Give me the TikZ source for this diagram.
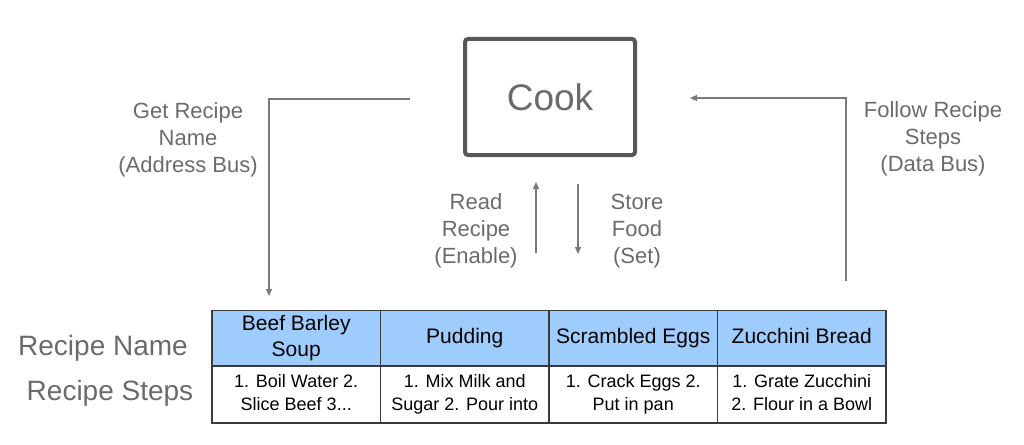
\documentclass[tikz,border=0pt]{standalone}
\usepackage{fontspec}
\setmainfont{Liberation Sans}
\usetikzlibrary{arrows.meta}
\definecolor{labelgray}{HTML}{6B6B6B}
\definecolor{linegray}{HTML}{7A7A7A}
\definecolor{boxgray}{HTML}{585858}
\definecolor{tablegray}{HTML}{3A3A3A}
\definecolor{headblue}{HTML}{9ECDFD}
\begin{document}
\begin{tikzpicture}
  [x=1pt,y=-1pt,
   every node/.style={font=\fontsize{22}{27}\selectfont,text=labelgray,align=center},
   cook/.style={draw=boxgray,line width=4pt,rounded corners=3pt,minimum width=170pt,minimum height=116pt,font=\fontsize{37}{44}\selectfont},
   head/.style={draw=tablegray,fill=headblue,line width=1.2pt,minimum width=168.5pt,minimum height=56pt,inner sep=0pt,text=black,font=\fontsize{21}{26}\selectfont,text depth=4.5pt},
   cell/.style={head,fill=white,minimum height=57pt,font=\fontsize{18}{23}\selectfont,text depth=4pt},
   bus/.style={draw=linegray,line width=1.2pt,-{Triangle[length=7pt,width=6pt]}}]
  \useasboundingbox (0,0) rectangle (1024,444);

  \node[cook] (cook) at (550,97) {Cook};

  % recipe table
  \foreach \i/\x/\name/\steps in {1/296.25/{Beef Barley\\Soup}/{1. Boil Water 2.\\Slice Beef 3...},
      2/464.75/{Pudding}/{1. Mix Milk and\\Sugar 2. Pour into},
      3/633.25/{Scrambled Eggs}/{1. Crack Eggs 2.\\Put in pan},
      4/801.75/{Zucchini Bread}/{1. Grate Zucchini\\2. Flour in a Bowl}}
  {
    \node[head] (h\i) at (\x,338.5) {\name};
    \node[cell] (s\i) at (\x,394.5) {\steps};
  }

  \node[anchor=base,font=\fontsize{28}{32}\selectfont] (rname) at (103,355) {Recipe Name};
  \node[anchor=base,font=\fontsize{28}{32}\selectfont] (rsteps) at (110,400) {Recipe Steps};

  % bus labels
  \node (addr) at (188,140) {Get Recipe\\Name\\(Address Bus)};
  \node (data) at (933,139) {Follow Recipe\\Steps\\(Data Bus)};
  \node (read) at (476,231) {Read\\Recipe\\(Enable)};
  \node (store) at (637,231) {Store\\Food\\(Set)};

  \coordinate (a1) at (410,99);
  \coordinate (a2) at (269,296);
  \coordinate (d1) at (846,281);
  \coordinate (d2) at (690,98);
  \coordinate (e1) at (536,253);
  \coordinate (e2) at (536,182);
  \coordinate (f1) at (578,184);
  \coordinate (f2) at (578,254);

  \draw[bus] (a1) -| (a2);
  \draw[bus] (d1) |- (d2);
  \foreach \from/\to in {e1/e2,f1/f2}
    \draw[bus] (\from) -- (\to);

\end{tikzpicture}
\end{document}
